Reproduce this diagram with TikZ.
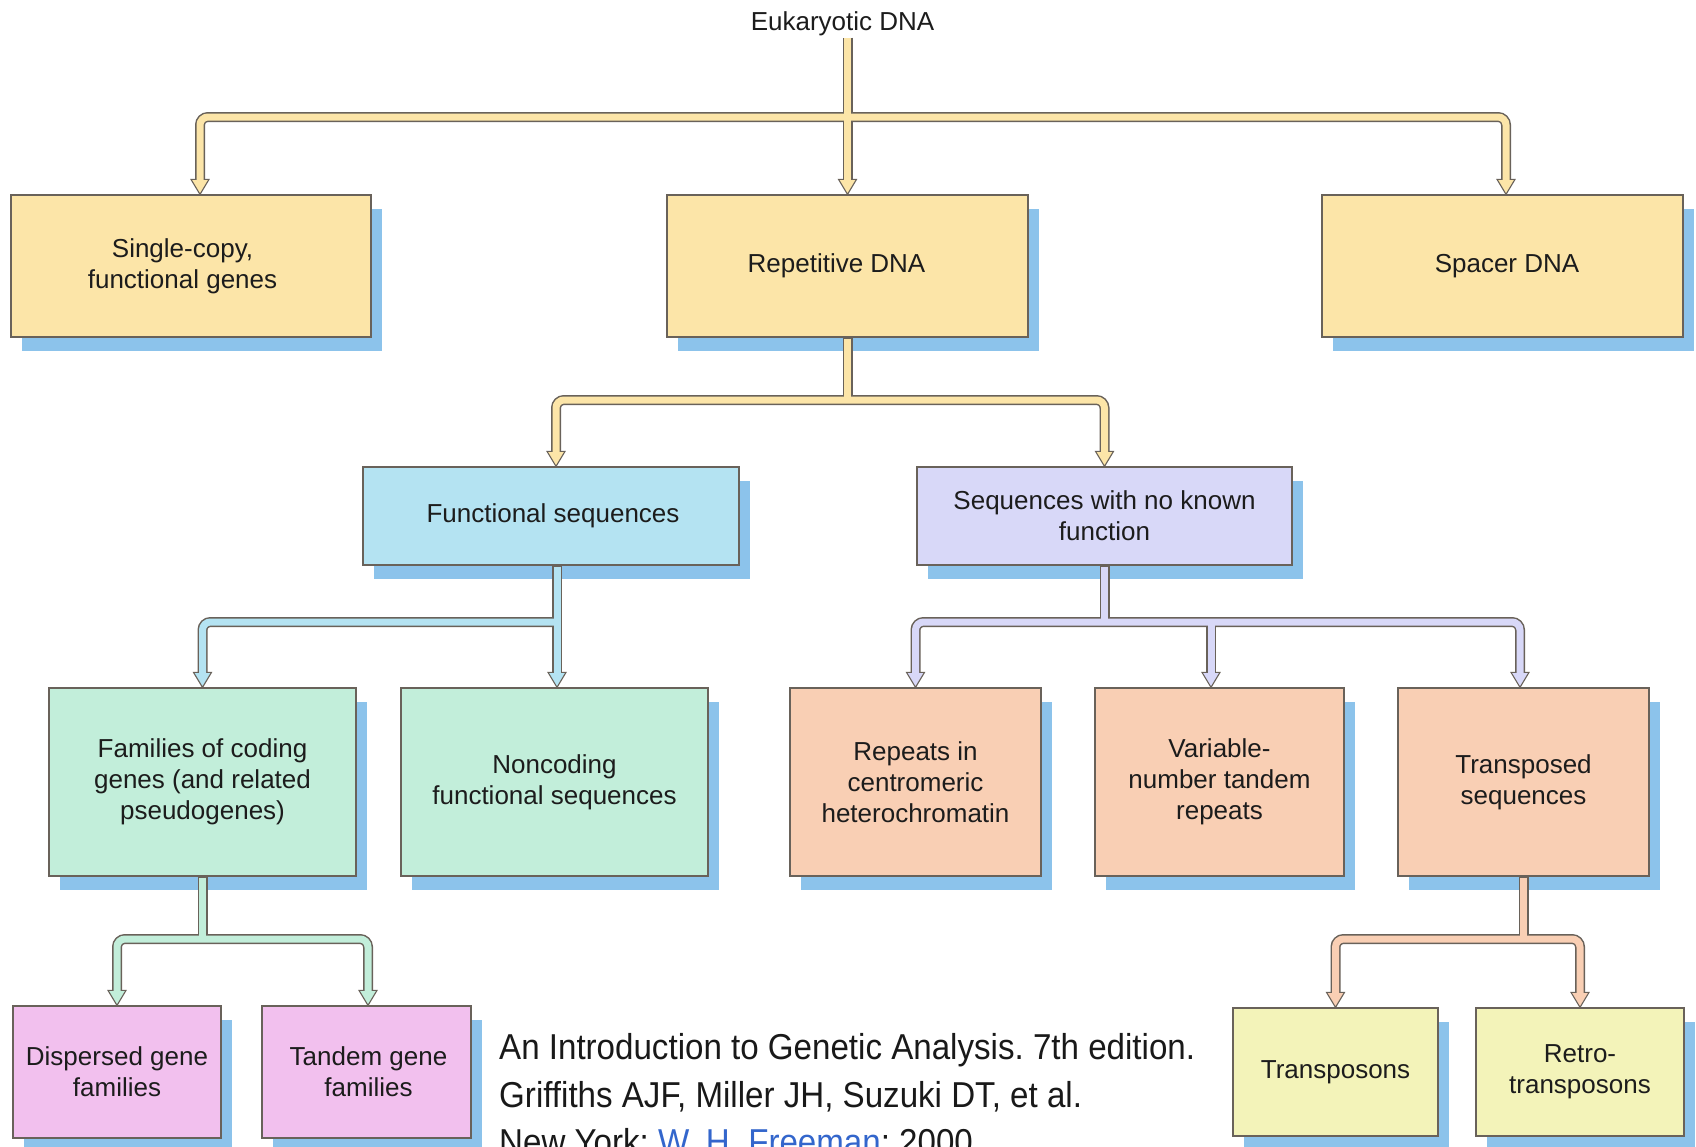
\documentclass[tikz,border=0pt]{standalone}
\usepackage{fontspec}
\setmainfont{Liberation Sans}
\newfontfamily\citefont[FakeStretch=0.92]{Liberation Sans}
\usetikzlibrary{shadows}
\frenchspacing
\definecolor{ylw}{RGB}{252,229,168}
\definecolor{blu}{RGB}{180,227,242}
\definecolor{lav}{RGB}{216,216,248}
\definecolor{mnt}{RGB}{194,238,218}
\definecolor{pch}{RGB}{249,207,180}
\definecolor{pnk}{RGB}{242,192,238}
\definecolor{pyl}{RGB}{243,243,185}
\definecolor{shdw}{RGB}{140,195,235}
\definecolor{edge}{RGB}{105,98,90}
\definecolor{txt}{RGB}{28,28,28}
\definecolor{linkblue}{RGB}{51,102,204}
\tikzset{
  box/.style={draw=edge, line width=1.3pt, align=center, text=txt,
    font=\fontsize{26}{31}\selectfont, inner sep=0pt,
    drop shadow={shadow xshift=11pt, shadow yshift=-14pt, fill=shdw, opacity=1}},
  pipeout/.style={draw=edge, line width=10pt, rounded corners=8pt},
  pipein/.style={draw=#1, line width=7pt, rounded corners=8pt},
  cite/.style={font=\citefont\fontsize{36}{47}\selectfont, text=black!90, inner sep=0pt, anchor=base west}
}
% arrow head with its tip at a named coordinate
\newcommand\arrhd[2]{\filldraw[fill=#1, draw=edge, line width=1.1pt, line join=miter]
  ([xshift=-9pt,yshift=15pt]#2) -- ([xshift=9pt,yshift=15pt]#2) -- (#2) -- cycle;}
\begin{document}
\begin{tikzpicture}[x=1pt,y=-1pt]
\clip (0,0) rectangle (1696,1146);
\fill[white] (0,0) rectangle (1696,1146);

% title
\node[font=\fontsize{26}{31}\selectfont, text=txt, inner sep=2pt, anchor=base] (euk) at (842.5,30) {Eukaryotic DNA};

% row 1
\node[box, fill=ylw, minimum width=360pt, minimum height=142pt] (single) at (191,266) {Single-copy,\hspace*{17pt}\\functional genes\hspace*{17pt}};
\node[box, fill=ylw, minimum width=361pt, minimum height=142pt] (rep) at (847.5,266) {Repetitive DNA\hspace*{22pt}};
\node[box, fill=ylw, minimum width=361pt, minimum height=142pt] (spacer) at (1502.5,266) {\hspace*{9pt}Spacer DNA};

% row 2
\node[box, fill=blu, minimum width=376pt, minimum height=98pt] (func) at (551,516) {\hspace*{4pt}Functional sequences};
\node[box, fill=lav, minimum width=375pt, minimum height=98pt] (seq) at (1104.5,516) {Sequences with no known\\function};

% row 3
\node[box, fill=mnt, minimum width=307pt, minimum height=188pt] (fam) at (202.5,782) {Families of coding\\genes (and related\\pseudogenes)};
\node[box, fill=mnt, minimum width=307pt, minimum height=188pt] (nonc) at (554.5,782) {Noncoding\\functional sequences};
\node[box, fill=pch, minimum width=251pt, minimum height=188pt] (rpt) at (915.5,782) {Repeats in\\centromeric\\heterochromatin};
\node[box, fill=pch, minimum width=249pt, minimum height=188pt] (var) at (1219.5,782) {Variable-\\number tandem\\repeats};
\node[box, fill=pch, minimum width=251pt, minimum height=188pt] (tps) at (1523.5,782) {Transposed\\sequences};

% row 4
\node[box, fill=pnk, minimum width=208pt, minimum height=132pt] (disp) at (117,1072) {Dispersed gene\\families};
\node[box, fill=pnk, minimum width=209pt, minimum height=132pt] (tand) at (366.5,1072) {\hspace*{4pt}Tandem gene\\\hspace*{4pt}families};
\node[box, fill=pyl, minimum width=205pt, minimum height=128pt] (tpson) at (1335.5,1072) {Transposons};
\node[box, fill=pyl, minimum width=208pt, minimum height=128pt] (retro) at (1580,1072) {Retro-\\transposons};

% levels
\coordinate (h1) at (0,117);
\coordinate (h2) at (0,400);
\coordinate (h3) at (0,622);
\coordinate (h4) at (0,939);

% arrow tips (entry points on the boxes)
\coordinate (aSingle) at ([xshift=9pt]single.north);
\coordinate (aRep)    at (rep.north);
\coordinate (aSpacer) at ([xshift=3.5pt]spacer.north);
\coordinate (aFunc)   at ([xshift=5pt]func.north);
\coordinate (aSeq)    at (seq.north);
\coordinate (aFam)    at (fam.north);
\coordinate (aNonc)   at ([xshift=2.5pt]nonc.north);
\coordinate (aRpt)    at (rpt.north);
\coordinate (aVar)    at ([xshift=-8.5pt]var.north);
\coordinate (aTps)    at ([xshift=-3.5pt]tps.north);
\coordinate (aDisp)   at (disp.north);
\coordinate (aTand)   at ([xshift=1.5pt]tand.north);
\coordinate (aTpson)  at (tpson.north);
\coordinate (aRetro)  at (retro.north);

% ---- tree 1 (yellow)
\draw[pipeout] (euk.south -| aRep) -- ([yshift=13pt]aRep);
\draw[pipeout] ([yshift=13pt]aSingle) -- (aSingle |- h1) -- (aSpacer |- h1) -- ([yshift=13pt]aSpacer);
\arrhd{ylw}{aSingle}\arrhd{ylw}{aRep}\arrhd{ylw}{aSpacer}
\draw[pipein=ylw] (euk.south -| aRep) -- ([yshift=13pt]aRep);
\draw[pipein=ylw] ([yshift=13pt]aSingle) -- (aSingle |- h1) -- (aSpacer |- h1) -- ([yshift=13pt]aSpacer);

% ---- tree 2 (yellow)
\draw[pipeout] (rep.south) -- (rep.south |- h2);
\draw[pipeout] ([yshift=13pt]aFunc) -- (aFunc |- h2) -- (aSeq |- h2) -- ([yshift=13pt]aSeq);
\arrhd{ylw}{aFunc}\arrhd{ylw}{aSeq}
\draw[pipein=ylw] ([yshift=-1pt]rep.south) -- (rep.south |- h2);
\draw[pipein=ylw] ([yshift=13pt]aFunc) -- (aFunc |- h2) -- (aSeq |- h2) -- ([yshift=13pt]aSeq);

% ---- tree 3 (blue)
\draw[pipeout] (func.south -| aNonc) -- ([yshift=13pt]aNonc);
\draw[pipeout] ([yshift=13pt]aFam) -- (aFam |- h3) -- (aNonc |- h3);
\arrhd{blu}{aFam}\arrhd{blu}{aNonc}
\draw[pipein=blu] ([yshift=13pt]aFam) -- (aFam |- h3) -- (aNonc |- h3);
\draw[pipein=blu] ([yshift=-1pt]func.south -| aNonc) -- ([yshift=13pt]aNonc);

% ---- tree 4 (lavender)
\draw[pipeout] (seq.south) -- (seq.south |- h3);
\draw[pipeout] ([yshift=13pt]aRpt) -- (aRpt |- h3) -- (aTps |- h3) -- ([yshift=13pt]aTps);
\draw[pipeout] (aVar |- h3) -- ([yshift=13pt]aVar);
\arrhd{lav}{aRpt}\arrhd{lav}{aVar}\arrhd{lav}{aTps}
\draw[pipein=lav] ([yshift=-1pt]seq.south) -- (seq.south |- h3);
\draw[pipein=lav] ([yshift=13pt]aRpt) -- (aRpt |- h3) -- (aTps |- h3) -- ([yshift=13pt]aTps);
\draw[pipein=lav] (aVar |- h3) -- ([yshift=13pt]aVar);

% ---- tree 5 (mint)
\draw[pipeout] (fam.south) -- (fam.south |- h4);
\draw[pipeout] ([yshift=13pt]aDisp) -- (aDisp |- h4) -- (aTand |- h4) -- ([yshift=13pt]aTand);
\arrhd{mnt}{aDisp}\arrhd{mnt}{aTand}
\draw[pipein=mnt] ([yshift=-1pt]fam.south) -- (fam.south |- h4);
\draw[pipein=mnt] ([yshift=13pt]aDisp) -- (aDisp |- h4) -- (aTand |- h4) -- ([yshift=13pt]aTand);

% ---- tree 6 (peach)
\draw[pipeout] (tps.south) -- (tps.south |- h4);
\draw[pipeout] ([yshift=13pt]aTpson) -- (aTpson |- h4) -- (aRetro |- h4) -- ([yshift=13pt]aRetro);
\arrhd{pch}{aTpson}\arrhd{pch}{aRetro}
\draw[pipein=pch] ([yshift=-1pt]tps.south) -- (tps.south |- h4);
\draw[pipein=pch] ([yshift=13pt]aTpson) -- (aTpson |- h4) -- (aRetro |- h4) -- ([yshift=13pt]aRetro);

% citation
\node[cite] (c1) at (499,1059) {An Introduction to Genetic Analysis. 7th edition.};
\node[cite] (c2) at (499,1107) {Griffiths AJF, Miller JH, Suzuki DT, et al.};
\node[cite] (c3) at (499,1154) {New York: \textcolor{linkblue}{W. H. Freeman}; 2000.};
\end{tikzpicture}
\end{document}
